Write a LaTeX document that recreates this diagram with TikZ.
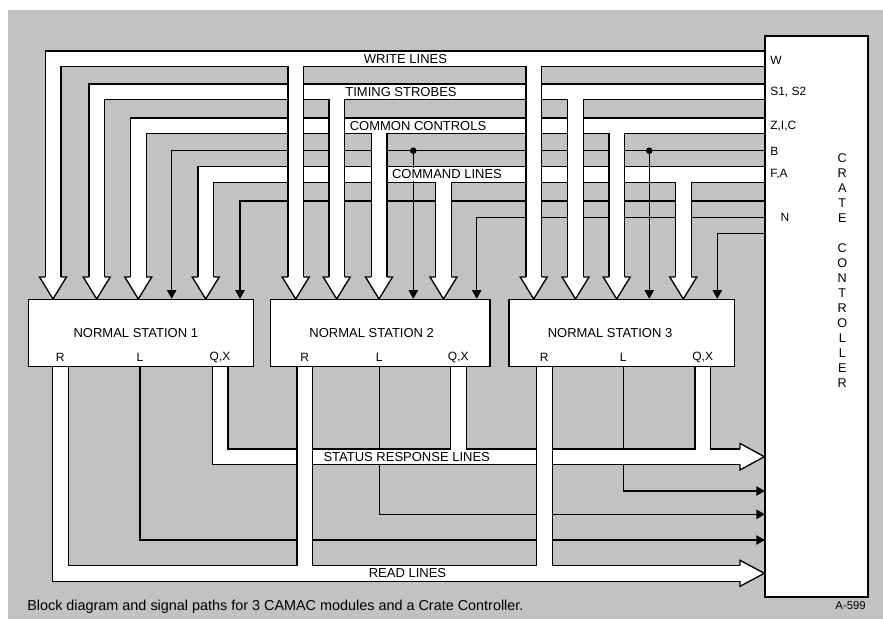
\documentclass[tikz,border=0pt]{standalone}
\usepackage{fontspec}
\setmainfont{Liberation Sans}
\usepackage{tikz}
\usetikzlibrary{arrows.meta}
\definecolor{bggray}{gray}{0.76}

\begin{document}
\begin{tikzpicture}[x=0.75pt,y=0.75pt,yscale=-1,xscale=1,
  busline/.style={line width=10.8pt,draw=white,preaction={draw=black,line width=12.75pt}},
  sigline/.style={line width=1pt,-{Triangle[length=6.5pt,width=7pt]}},
  stationbox/.style={fill=white,draw=black,line width=1pt},
  openhead/.style={fill=white,draw=black,line width=1pt,line join=miter},
  busl/.style={fill=white,inner xsep=1.5pt,inner ysep=1.6pt,font=\fontsize{9.75}{11}\selectfont},
  pinlabel/.style={inner sep=0pt,font=\fontsize{9}{10}\selectfont}]
        \useasboundingbox (0,0) rectangle (883,619);
        %Shape: Rectangle [background]
        \fill[bggray] (8,10) rectangle (883,619);
        %Straight Lines [N, one per station]
        \draw[sigline] (770,201) -- (240,201) -- (240,298.8);
        \draw[sigline] (770,217.3) -- (476.7,217.3) -- (476.7,298.8);
        \draw[sigline] (770,233.3) -- (717.3,233.3) -- (717.3,298.8);
        %Bus [command lines]
        \draw[busline] (770,174.3) -- (205.7,174.3) -- (205.7,277)
            (443.5,174.3) -- (443.5,277) (683.3,174.3) -- (683.3,277);
        %Straight Lines [B]
        \draw[sigline] (770,150.7) -- (171.7,150.7) -- (171.7,298.8);
        \draw[sigline] (413.3,150.7) -- (413.3,298.8);
        \draw[sigline] (649.3,150.7) -- (649.3,298.8);
        \fill (413.3,150.7) circle (3.3) (649.3,150.7) circle (3.3);
        %Bus [common controls]
        \draw[busline] (770,125.7) -- (138.3,125.7) -- (138.3,277)
            (379,125.7) -- (379,277) (616.7,125.7) -- (616.7,277);
        %Bus [timing strobes]
        \draw[busline] (770,91.7) -- (96.7,91.7) -- (96.7,277)
            (336.7,91.7) -- (336.7,277) (575.5,91.7) -- (575.5,277);
        %Bus [write lines]
        \draw[busline] (770,58.7) -- (53,58.7) -- (53,277)
            (295.7,58.7) -- (295.7,277) (533.7,58.7) -- (533.7,277);
        %Arrow heads [into the stations]
        \foreach \hx in {53,96.7,138.3,205.7,295.7,336.7,379,443.5,533.7,575.5,616.7,683.3}
            \filldraw[openhead] (\hx-7.85,277) -- (\hx-13.5,277) -- (\hx,299) -- (\hx+13.5,277) -- (\hx+7.85,277);
        %Straight Lines [L]
        \draw[sigline] (140,360) -- (140,540) -- (765,540);
        \draw[sigline] (379.3,360) -- (379.3,514.3) -- (765,514.3);
        \draw[sigline] (623.3,360) -- (623.3,491) -- (765,491);
        %Bus [status response lines]
        \draw[busline] (220,360) -- (220,456.7) -- (740,456.7)
            (458.3,360) -- (458.3,456.7) (702.7,360) -- (702.7,456.7);
        \filldraw[openhead] (740,448.85) -- (740,443.4) -- (764.3,456.7) -- (740,470) -- (740,464.55);
        %Bus [read lines]
        \draw[busline] (60.3,360) -- (60.3,573.3) -- (740,573.3)
            (304.7,360) -- (304.7,573.3) (544.3,360) -- (544.3,573.3);
        \filldraw[openhead] (740,565.45) -- (740,560.3) -- (764.3,573.3) -- (740,586.3) -- (740,581.15);
        %Shape: Rectangle [stations]
        \filldraw[stationbox] (28.3,299.5) rectangle (253.3,366.7);
        \filldraw[stationbox] (270.7,299.5) rectangle (490,366.7);
        \filldraw[stationbox] (509,299.5) rectangle (734.3,366.7);
        %Shape: Rectangle [crate controller]
        \filldraw[stationbox] (765,36) rectangle (868,597);
        % Text Node
        \node[busl] (wl) at (405.5,58.7) {WRITE LINES};
        \node[busl] (ts) at (401,91.7) {TIMING STROBES};
        \node[busl] (cc) at (418,125.7) {COMMON CONTROLS};
        \node[busl] (cl) at (447,174.3) {COMMAND LINES};
        \node[busl] (sr) at (406.7,456.7) {STATUS RESPONSE LINES};
        \node[busl] (rl) at (407.5,573.3) {READ LINES};
        % Text Node
        \node[busl] (ns1) at (135.8,333.3) {NORMAL STATION 1};
        \node[busl] (ns2) at (371.7,333.3) {NORMAL STATION 2};
        \node[busl] (ns3) at (610,333.3) {NORMAL STATION 3};
        % Text Node
        \node[pinlabel] (r1) at (60.3,357.3) {R};
        \node[pinlabel] (l1) at (140,357.3) {L};
        \node[pinlabel] (qx1) at (220,357.3) {Q,X};
        \node[pinlabel] (r2) at (304.7,357.3) {R};
        \node[pinlabel] (l2) at (379.3,357.3) {L};
        \node[pinlabel] (qx2) at (458.3,357.3) {Q,X};
        \node[pinlabel] (r3) at (544.3,357.3) {R};
        \node[pinlabel] (l3) at (623.3,357.3) {L};
        \node[pinlabel] (qx3) at (702.7,357.3) {Q,X};
        % Text Node
        \node[pinlabel,anchor=west] (cw) at (770,60) {W};
        \node[pinlabel,anchor=west] (cs) at (770,92) {S1, S2};
        \node[pinlabel,anchor=west] (cz) at (770,125.7) {Z,I,C};
        \node[pinlabel,anchor=west] (cb) at (770,151) {B};
        \node[pinlabel,anchor=west] (cf) at (770,174) {F,A};
        \node[pinlabel] (cn) at (785,217) {N};
        % Text Node
        \node[pinlabel,align=center,font=\fontsize{9.5}{11.25}\selectfont] (crate) at (842.3,188) {C\\R\\A\\T\\E};
        \node[pinlabel,align=center,font=\fontsize{9.5}{11.25}\selectfont] (ctrl) at (842.3,315.5) {C\\O\\N\\T\\R\\O\\L\\L\\E\\R};
        % Text Node
        \node[anchor=base west,inner sep=0pt,font=\fontsize{10.8}{12}\selectfont] (cap) at (27,610) {Block diagram and signal paths for 3 CAMAC modules and a Crate Controller.};
        \node[anchor=base east,inner sep=0pt,font=\fontsize{8.5}{10}\selectfont] (fig) at (866,609) {A-599};
\end{tikzpicture}
\end{document}
